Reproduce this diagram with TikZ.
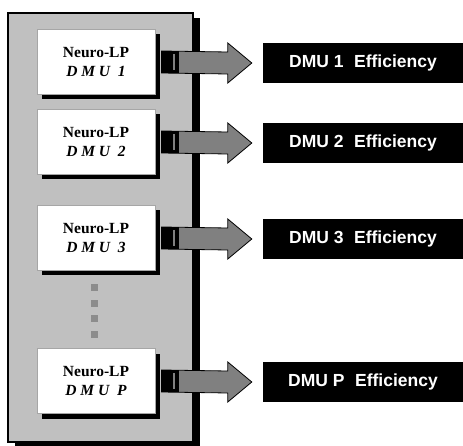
\documentclass[tikz,border=0pt]{standalone}
\usepackage{fontspec}
\setmainfont{Liberation Serif}
\newfontfamily\effont{Liberation Sans}
\usetikzlibrary{calc,shadows}

\definecolor{panelgray}{HTML}{C0C0C0}
\definecolor{arrowgray}{HTML}{808080}
\definecolor{dotgray}{HTML}{8C8C8C}

\tikzset{
  panel/.style={draw=black,line width=1.4pt,fill=panelgray,
    drop shadow={shadow xshift=7pt,shadow yshift=-5pt,fill=black,opacity=1}},
  lpbox/.style={draw=gray!70,line width=1pt,fill=white,minimum width=118pt,
    minimum height=65pt,align=center,inner sep=0pt,font=\fontsize{15.5}{19}\selectfont\bfseries,
    drop shadow={shadow xshift=5pt,shadow yshift=-5pt,fill=black,opacity=1}},
  effbox/.style={fill=black,text=white,minimum width=200pt,minimum height=40pt,
    inner sep=0pt,font=\effont\fontsize{17.5}{20}\selectfont\bfseries},
  arrowbody/.style={fill=arrowgray,draw=black,line width=0.8pt,line join=miter},
  vdot/.style={fill=dotgray,minimum size=7pt,inner sep=0pt}
}

% block arrow from a Neuro-LP box to its efficiency box
\newcommand{\dmuarrow}[2]{%
  \draw[arrowbody] ($(#1.east)+(6,-11)$) -- ($(#2.west)+(-35,-11)$)
    -- ($(#2.west)+(-35,-20)$) -- ($(#2.west)+(-11,0)$)
    -- ($(#2.west)+(-35,20)$) -- ($(#2.west)+(-35,11)$)
    -- ($(#1.east)+(6,11)$) -- cycle;
  \fill[black] ($(#1.east)+(6,-11)$) rectangle ($(#1.east)+(23,11)$);
  \fill[arrowgray] ($(#1.east)+(17,-8)$) rectangle ($(#1.east)+(19,8)$);
}

\begin{document}
\begin{tikzpicture}[x=1pt,y=-1pt]
  \useasboundingbox (0,0) rectangle (463,446);

  \node[panel,minimum width=185pt,minimum height=429pt,inner sep=0pt] (P) at (100.5,227.5) {};

  \node[lpbox] (A) at (96,62)  {Neuro-LP\\ \textit{D M U\ \ 1}};
  \node[lpbox] (B) at (96,142) {Neuro-LP\\ \textit{D M U\ \ 2}};
  \node[lpbox] (C) at (96,238) {Neuro-LP\\ \textit{D M U\ \ 3}};
  \node[lpbox] (D) at (96,381) {Neuro-LP\\ \textit{D M U\ \ P}};

  \node[vdot] (d1) at (94,288) {};
  \node[vdot] (d2) at (94,303) {};
  \node[vdot] (d3) at (94,318) {};
  \node[vdot] (d4) at (94,334) {};

  \node[effbox] (EA) at (363,63)  {DMU 1\hspace{0.6em}Efficiency};
  \node[effbox] (EB) at (363,143) {DMU 2\hspace{0.6em}Efficiency};
  \node[effbox] (EC) at (363,239) {DMU 3\hspace{0.6em}Efficiency};
  \node[effbox] (ED) at (363,382) {DMU P\hspace{0.6em}Efficiency};

  \dmuarrow{A}{EA}
  \dmuarrow{B}{EB}
  \dmuarrow{C}{EC}
  \dmuarrow{D}{ED}

\end{tikzpicture}
\end{document}
